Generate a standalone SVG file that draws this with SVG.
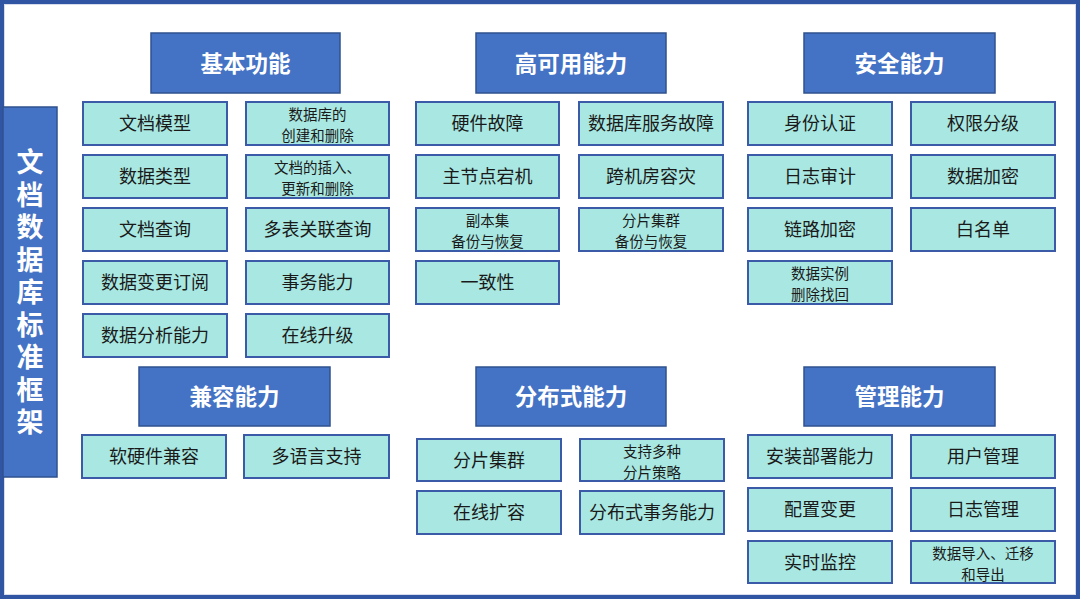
<svg xmlns="http://www.w3.org/2000/svg" width="1080" height="599" viewBox="0 0 1080 599">
<style>
text{font-family:"Noto Sans CJK SC","Noto Sans",sans-serif;text-anchor:middle;dominant-baseline:central}
.hd rect{fill:#4472C4;stroke:#2F528F;stroke-width:1.5}
.hd text{fill:#fff;font-size:22.5px;font-weight:bold}
.it rect{fill:#A9E8E2;stroke:#3B5BA9;stroke-width:2}
.it text{fill:#1a1a1a;font-size:18px}
.it text.s{font-size:14.5px}
</style>
<rect x="0" y="0" width="1080" height="599" fill="#fff"/>
<rect x="2" y="2" width="1076" height="595" fill="none" stroke="#2F55A3" stroke-width="4"/>
<rect x="4.5" y="4.5" width="1071" height="590" fill="none" stroke="#D6DCEB" stroke-width="1"/>
<g id="title">
<rect x="3" y="107" width="54" height="370" fill="#4472C4" stroke="#2F528F" stroke-width="1.5"/>
<text x="30" y="148.5" fill="#fff" font-size="27" font-weight="bold" writing-mode="vertical-rl" style="text-anchor:start;letter-spacing:5.5px">文档数据库标准框架</text>
</g>
<g id="connectors"></g>
<g id="h-basic" class="hd"><rect x="151" y="33" width="189" height="60"/><text x="245.5" y="61.5">基本功能</text></g>
<g id="h-ha" class="hd"><rect x="476" y="33" width="190" height="60"/><text x="571" y="61.5">高可用能力</text></g>
<g id="h-sec" class="hd"><rect x="804" y="33" width="191" height="60"/><text x="899.5" y="61.5">安全能力</text></g>
<g id="h-compat" class="hd"><rect x="139" y="367" width="191" height="59"/><text x="234.5" y="395">兼容能力</text></g>
<g id="h-dist" class="hd"><rect x="476" y="367" width="190" height="59"/><text x="571" y="395">分布式能力</text></g>
<g id="h-mgmt" class="hd"><rect x="804" y="367" width="191" height="59"/><text x="899.5" y="395">管理能力</text></g>
<g id="b1" class="it"><rect x="83" y="102" width="144" height="43"/><text x="155" y="122">文档模型</text></g>
<g id="b2" class="it"><rect x="246" y="102" width="143" height="43"/><text class="s"><tspan x="317.5" y="112.5">数据库的</tspan><tspan x="317.5" dy="21">创建和删除</tspan></text></g>
<g id="b3" class="it"><rect x="83" y="155" width="144" height="43"/><text x="155" y="175">数据类型</text></g>
<g id="b4" class="it"><rect x="246" y="155" width="143" height="43"/><text class="s"><tspan x="317.5" y="165.5">文档的插入、</tspan><tspan x="317.5" dy="21">更新和删除</tspan></text></g>
<g id="b5" class="it"><rect x="83" y="208" width="144" height="43"/><text x="155" y="228">文档查询</text></g>
<g id="b6" class="it"><rect x="246" y="208" width="143" height="43"/><text x="317.5" y="228">多表关联查询</text></g>
<g id="b7" class="it"><rect x="83" y="261" width="144" height="43"/><text x="155" y="281">数据变更订阅</text></g>
<g id="b8" class="it"><rect x="246" y="261" width="143" height="43"/><text x="317.5" y="281">事务能力</text></g>
<g id="b9" class="it"><rect x="83" y="314" width="144" height="43"/><text x="155" y="334">数据分析能力</text></g>
<g id="b10" class="it"><rect x="246" y="314" width="143" height="43"/><text x="317.5" y="334">在线升级</text></g>
<g id="a1" class="it"><rect x="416" y="102" width="143" height="43"/><text x="487.5" y="122">硬件故障</text></g>
<g id="a2" class="it"><rect x="579" y="102" width="144" height="43"/><text x="651" y="122">数据库服务故障</text></g>
<g id="a3" class="it"><rect x="416" y="155" width="143" height="43"/><text x="487.5" y="175">主节点宕机</text></g>
<g id="a4" class="it"><rect x="579" y="155" width="144" height="43"/><text x="651" y="175">跨机房容灾</text></g>
<g id="a5" class="it"><rect x="416" y="208" width="143" height="43"/><text class="s"><tspan x="487.5" y="218.5">副本集</tspan><tspan x="487.5" dy="21">备份与恢复</tspan></text></g>
<g id="a6" class="it"><rect x="579" y="208" width="144" height="43"/><text class="s"><tspan x="651" y="218.5">分片集群</tspan><tspan x="651" dy="21">备份与恢复</tspan></text></g>
<g id="a7" class="it"><rect x="416" y="261" width="143" height="43"/><text x="487.5" y="281">一致性</text></g>
<g id="s1" class="it"><rect x="748" y="102" width="144" height="43"/><text x="820" y="122">身份认证</text></g>
<g id="s2" class="it"><rect x="911" y="102" width="144" height="43"/><text x="983" y="122">权限分级</text></g>
<g id="s3" class="it"><rect x="748" y="155" width="144" height="43"/><text x="820" y="175">日志审计</text></g>
<g id="s4" class="it"><rect x="911" y="155" width="144" height="43"/><text x="983" y="175">数据加密</text></g>
<g id="s5" class="it"><rect x="748" y="208" width="144" height="43"/><text x="820" y="228">链路加密</text></g>
<g id="s6" class="it"><rect x="911" y="208" width="144" height="43"/><text x="983" y="228">白名单</text></g>
<g id="s7" class="it"><rect x="748" y="261" width="144" height="43"/><text class="s"><tspan x="820" y="271.5">数据实例</tspan><tspan x="820" dy="21">删除找回</tspan></text></g>
<g id="c1" class="it"><rect x="82" y="435" width="144" height="43"/><text x="154" y="455">软硬件兼容</text></g>
<g id="c2" class="it"><rect x="244" y="435" width="145" height="43"/><text x="316.5" y="455">多语言支持</text></g>
<g id="d1" class="it"><rect x="417" y="439" width="144" height="42"/><text x="489" y="458.5">分片集群</text></g>
<g id="d2" class="it"><rect x="580" y="439" width="144" height="42"/><text class="s"><tspan x="652" y="449.5">支持多种</tspan><tspan x="652" dy="21">分片策略</tspan></text></g>
<g id="d3" class="it"><rect x="417" y="491" width="144" height="43"/><text x="489" y="511">在线扩容</text></g>
<g id="d4" class="it"><rect x="580" y="491" width="144" height="43"/><text x="652" y="511">分布式事务能力</text></g>
<g id="m1" class="it"><rect x="748" y="435" width="144" height="43"/><text x="820" y="455">安装部署能力</text></g>
<g id="m2" class="it"><rect x="911" y="435" width="144" height="43"/><text x="983" y="455">用户管理</text></g>
<g id="m3" class="it"><rect x="748" y="488" width="144" height="43"/><text x="820" y="508">配置变更</text></g>
<g id="m4" class="it"><rect x="911" y="488" width="144" height="43"/><text x="983" y="508">日志管理</text></g>
<g id="m5" class="it"><rect x="748" y="541" width="144" height="42"/><text x="820" y="560.5">实时监控</text></g>
<g id="m6" class="it"><rect x="911" y="541" width="144" height="42"/><text class="s"><tspan x="983" y="551.5">数据导入、迁移</tspan><tspan x="983" dy="21">和导出</tspan></text></g>
</svg>
